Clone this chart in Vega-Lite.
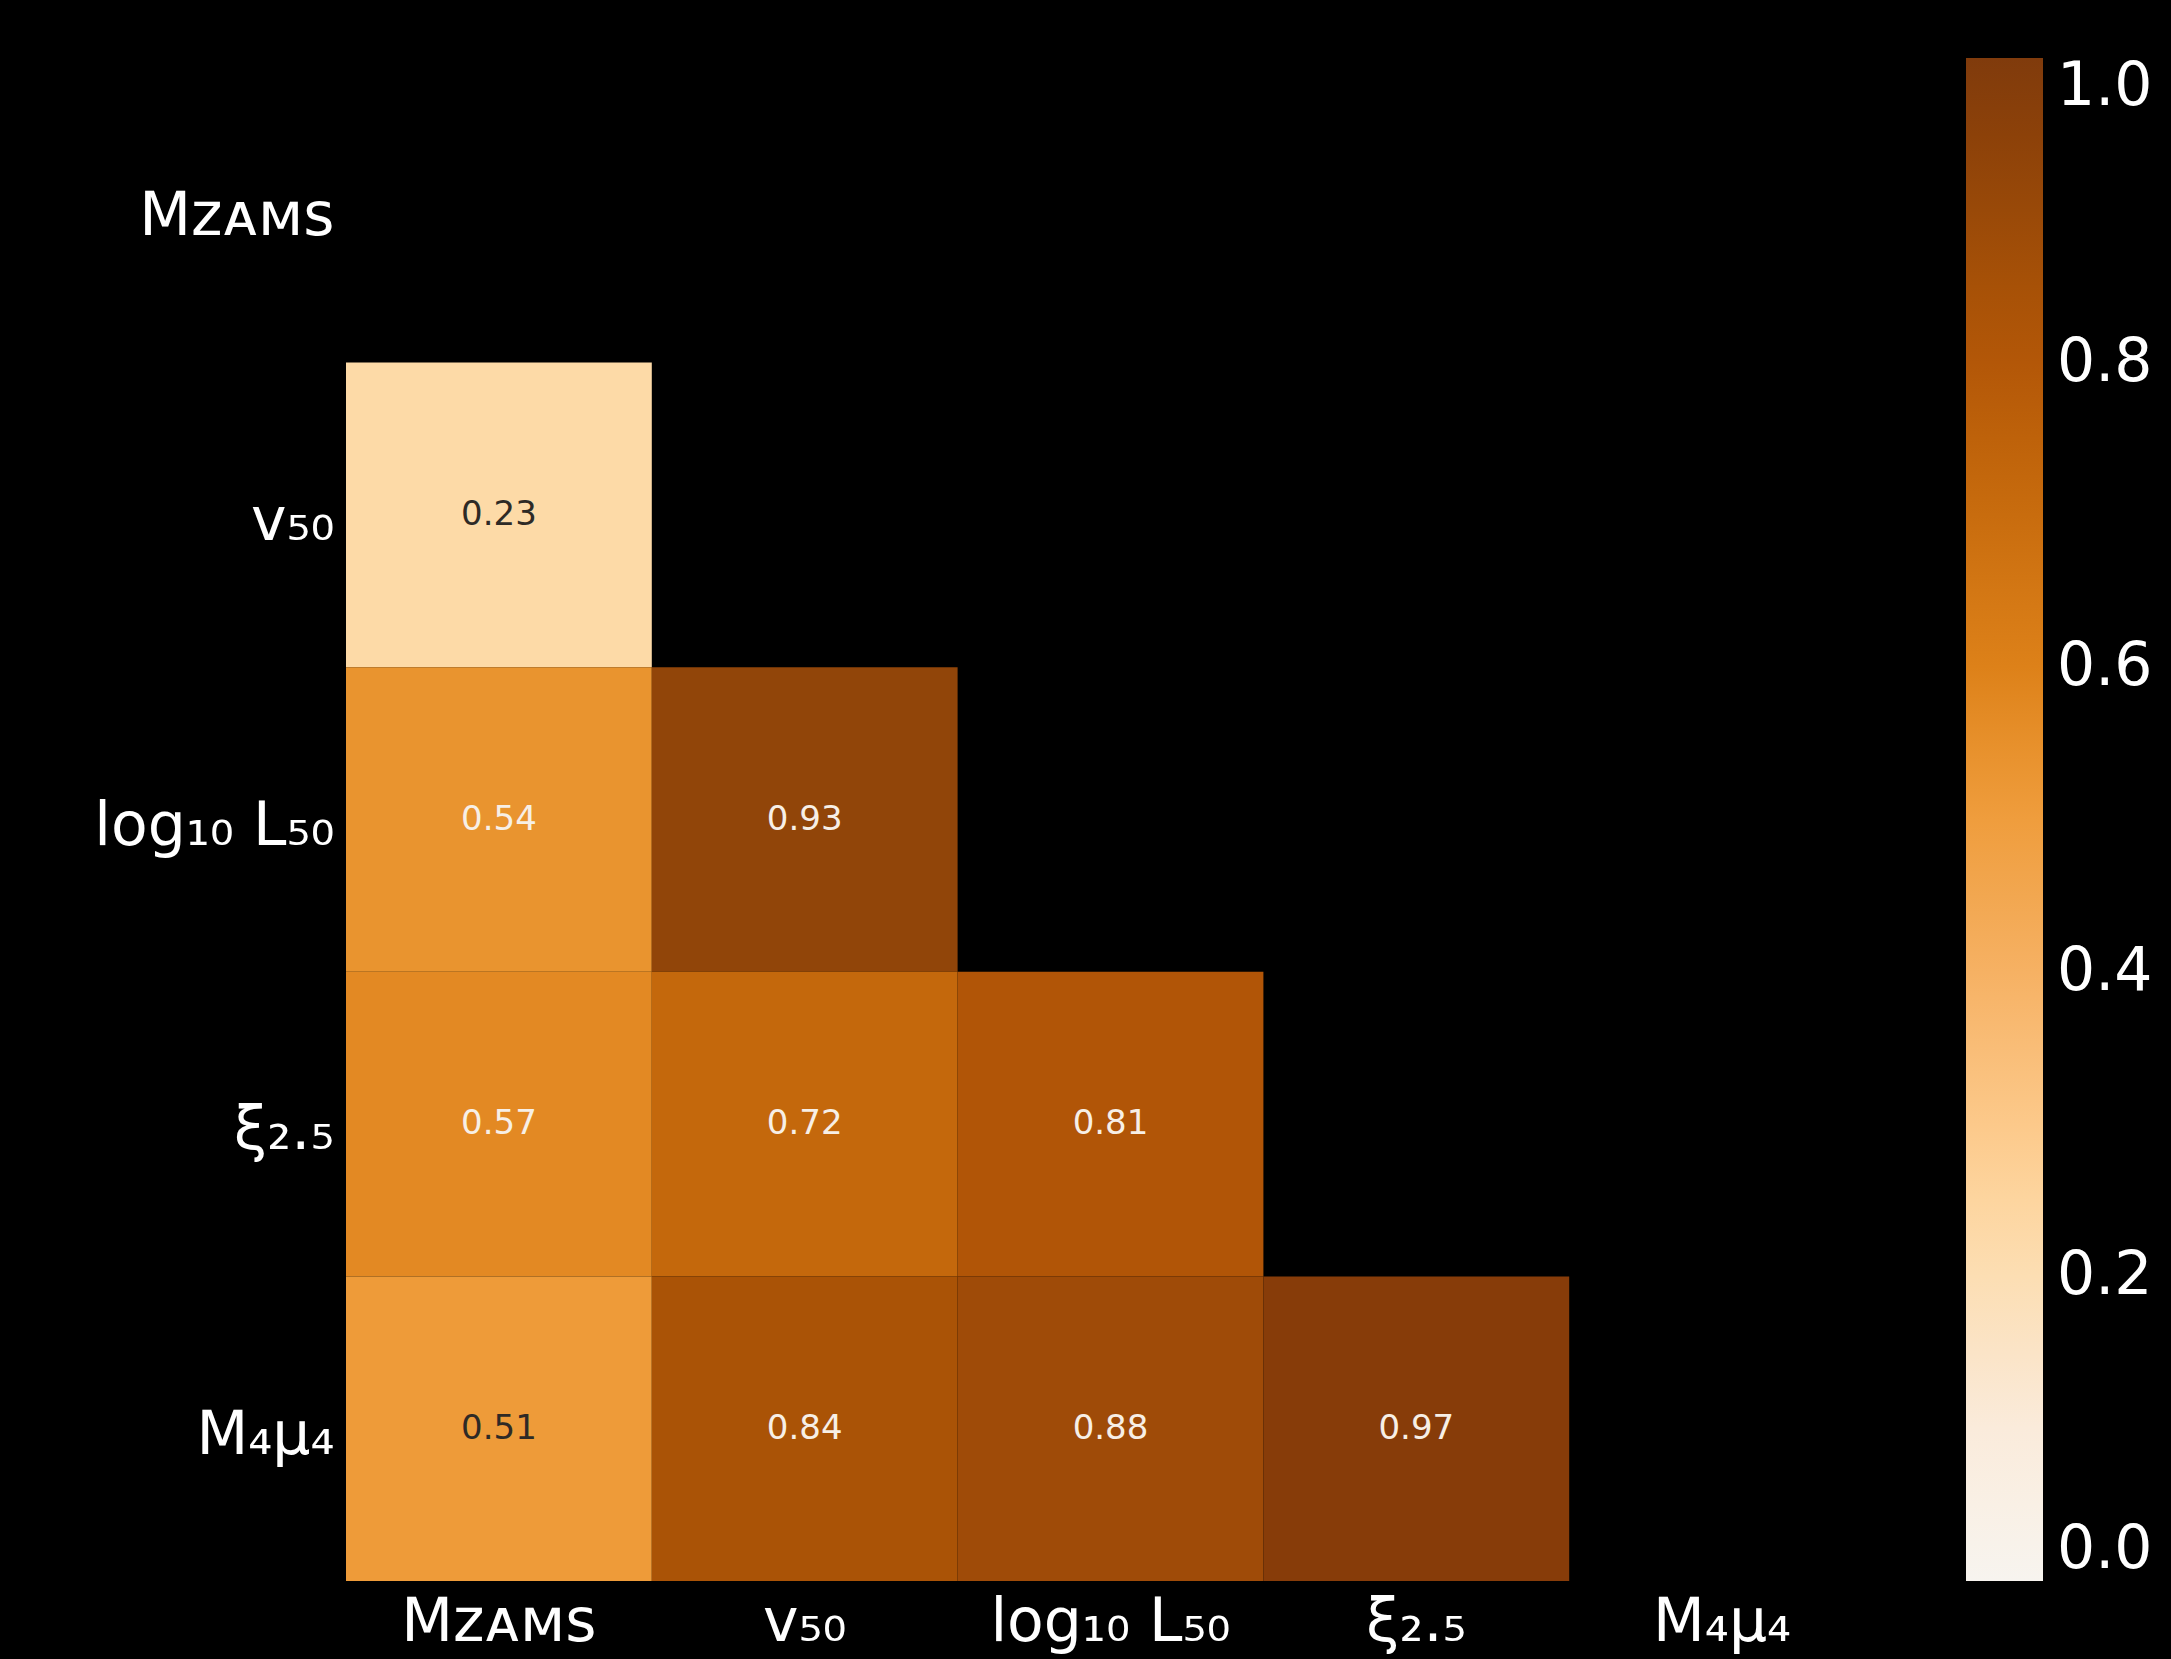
{
  "$schema": "https://vega.github.io/schema/vega-lite/v6.json",
  "background": "#000000",
  "autosize": {"type": "none"},
  "padding": {"left": 346, "top": 58, "right": 296, "bottom": 78},
  "width": 1529,
  "height": 1523,
  "data": {
    "values": [
      {"row": "v₅₀", "col": "Mᴢᴀᴍꜱ", "r": 0.23},
      {"row": "log₁₀ L₅₀", "col": "Mᴢᴀᴍꜱ", "r": 0.54},
      {"row": "log₁₀ L₅₀", "col": "v₅₀", "r": 0.93},
      {"row": "ξ₂.₅", "col": "Mᴢᴀᴍꜱ", "r": 0.57},
      {"row": "ξ₂.₅", "col": "v₅₀", "r": 0.72},
      {"row": "ξ₂.₅", "col": "log₁₀ L₅₀", "r": 0.81},
      {"row": "M₄μ₄", "col": "Mᴢᴀᴍꜱ", "r": 0.51},
      {"row": "M₄μ₄", "col": "v₅₀", "r": 0.84},
      {"row": "M₄μ₄", "col": "log₁₀ L₅₀", "r": 0.88},
      {"row": "M₄μ₄", "col": "ξ₂.₅", "r": 0.97}
    ]
  },
  "encoding": {
    "x": {
      "field": "col",
      "type": "nominal",
      "scale": {"domain": ["Mᴢᴀᴍꜱ", "v₅₀", "log₁₀ L₅₀", "ξ₂.₅", "M₄μ₄"], "paddingInner": 0, "paddingOuter": 0},
      "axis": {"title": null, "labelAngle": 0, "labelPadding": 12, "labelLimit": 0, "domain": false, "ticks": false, "grid": false, "labelColor": "#ffffff", "labelFont": "DejaVu Sans", "labelFontSize": 60}
    },
    "y": {
      "field": "row",
      "type": "nominal",
      "scale": {"domain": ["Mᴢᴀᴍꜱ", "v₅₀", "log₁₀ L₅₀", "ξ₂.₅", "M₄μ₄"], "paddingInner": 0, "paddingOuter": 0},
      "axis": {"title": null, "labelPadding": 12, "labelOffset": 7, "labelLimit": 0, "domain": false, "ticks": false, "grid": false, "labelColor": "#ffffff", "labelFont": "DejaVu Sans", "labelFontSize": 60}
    }
  },
  "layer": [
    {
      "mark": {"type": "rect"},
      "encoding": {
        "color": {
          "field": "r",
          "type": "quantitative",
          "scale": {
            "domain": [0, 0.1, 0.23, 0.3, 0.4, 0.51, 0.54, 0.57, 0.6, 0.72, 0.81, 0.84, 0.88, 0.93, 0.97, 1.0],
            "range": ["#f7f4ef", "#faebdb", "#fddaa7", "#fcc98a", "#f6b163", "#ee9b39", "#e9942f", "#e38923", "#dd8119", "#c4680c", "#b15507", "#aa5306", "#9f4b08", "#914509", "#873c09", "#803b0c"],
            "interpolate": "rgb"
          },
          "legend": {
            "title": null,
            "orient": "right",
            "direction": "vertical",
            "offset": 91,
            "gradientLength": 1523,
            "gradientThickness": 77,
            "gradientStrokeWidth": 0,
            "values": [0, 0.2, 0.4, 0.6, 0.8, 1.0],
            "format": ".1f",
            "labelColor": "#ffffff",
            "labelFont": "DejaVu Sans",
            "labelFontSize": 60,
            "labelOffset": 14,
            "labelBaseline": "middle",
            "labelOverlap": false,
            "padding": 0
          }
        }
      }
    },
    {
      "mark": {"type": "text", "font": "DejaVu Sans", "fontSize": 34},
      "encoding": {
        "text": {"field": "r", "type": "quantitative", "format": ".2f"},
        "color": {"condition": {"test": "datum.r < 0.52", "value": "#2e2a26"}, "value": "#f7efe6"}
      }
    }
  ],
  "config": {"view": {"stroke": null}}
}
